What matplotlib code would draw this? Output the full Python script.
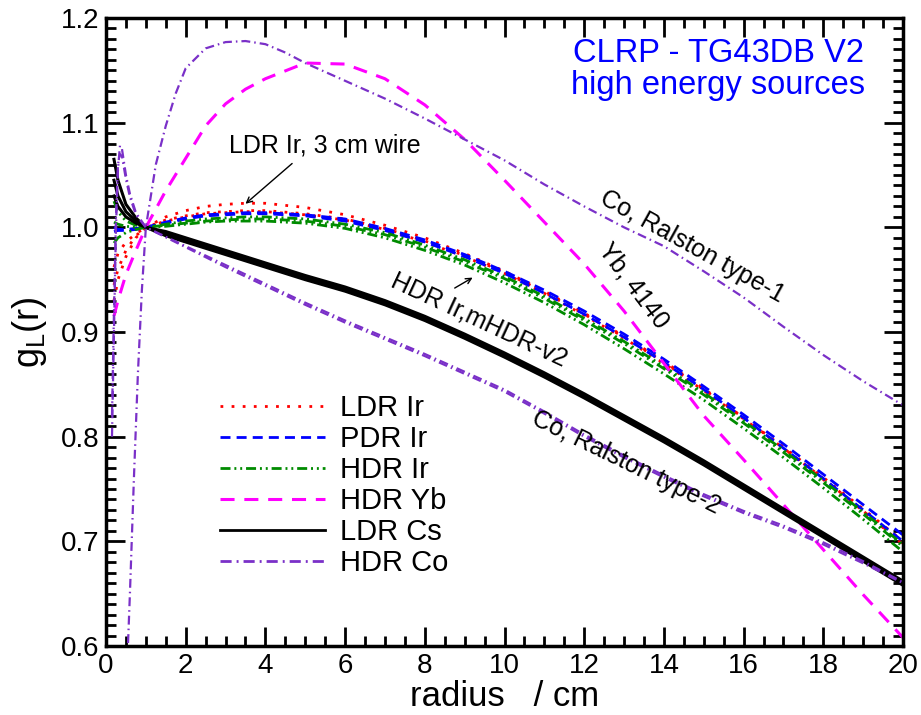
import matplotlib
matplotlib.use("Agg")
import matplotlib.pyplot as plt
from matplotlib.ticker import MultipleLocator, FormatStrFormatter

plt.rcParams['font.family'] = ['Liberation Sans', 'DejaVu Sans']

# radius grid (cm)
r = [0.2, 0.3, 0.5, 0.75, 1, 1.5, 2, 2.5, 3, 3.5, 4, 5, 6, 7, 8, 9, 10,
     11, 12, 13, 14, 15, 16, 17, 18, 19, 20]

# LDR Ir (red dotted)
ldr_ir_wire = [0.945, 0.96, 0.978, 0.992, 1.0, 1.010, 1.016, 1.020, 1.022, 1.023, 1.023,
               1.019, 1.012, 1.002, 0.990, 0.975, 0.958, 0.939, 0.918, 0.896, 0.872,
               0.846, 0.818, 0.789, 0.759, 0.729, 0.698]
ldr_ir_a = [0.930, 0.950, 0.972, 0.990, 1.0, 1.007, 1.011, 1.014, 1.015, 1.016, 1.016,
            1.013, 1.008, 0.999, 0.987, 0.973, 0.957, 0.938, 0.917, 0.895, 0.871,
            0.845, 0.818, 0.790, 0.761, 0.731, 0.700]
ldr_ir_b = [0.962, 0.975, 0.986, 0.994, 1.0, 1.006, 1.010, 1.013, 1.014, 1.015, 1.015,
            1.012, 1.007, 0.998, 0.986, 0.972, 0.956, 0.937, 0.916, 0.894, 0.870,
            0.844, 0.817, 0.789, 0.760, 0.729, 0.697]

# PDR Ir (blue dashed)
pdr_ir_a = [1.000, 0.998, 0.998, 0.999, 1.0, 1.005, 1.009, 1.012, 1.013, 1.014, 1.014,
            1.012, 1.008, 0.999, 0.988, 0.974, 0.958, 0.940, 0.920, 0.898, 0.874,
            0.848, 0.821, 0.793, 0.764, 0.735, 0.706]
pdr_ir_b = [0.996, 0.997, 0.997, 0.998, 1.0, 1.004, 1.008, 1.011, 1.012, 1.013, 1.013,
            1.011, 1.006, 0.997, 0.986, 0.972, 0.956, 0.937, 0.917, 0.895, 0.871,
            0.845, 0.818, 0.789, 0.760, 0.730, 0.700]

# HDR Ir (green dash-dot-dot)
hdr_ir_a = [1.025, 1.015, 1.006, 1.002, 1.0, 1.002, 1.004, 1.006, 1.007, 1.008, 1.008,
            1.006, 1.001, 0.993, 0.981, 0.967, 0.951, 0.932, 0.911, 0.889, 0.865,
            0.840, 0.813, 0.785, 0.756, 0.726, 0.695]
hdr_ir_b = [0.985, 0.990, 0.995, 0.998, 1.0, 1.003, 1.006, 1.008, 1.009, 1.010, 1.010,
            1.008, 1.003, 0.995, 0.983, 0.969, 0.953, 0.934, 0.913, 0.891, 0.867,
            0.842, 0.815, 0.787, 0.758, 0.728, 0.697]
hdr_ir_c = [1.005, 1.003, 1.001, 1.000, 1.0, 1.001, 1.003, 1.005, 1.006, 1.006, 1.006,
            1.004, 0.999, 0.990, 0.978, 0.964, 0.947, 0.928, 0.907, 0.884, 0.860,
            0.835, 0.808, 0.780, 0.751, 0.721, 0.690]

# HDR Yb (magenta long dash)
hdr_yb = [0.915, 0.930, 0.955, 0.978, 1.0, 1.035, 1.066, 1.097, 1.118, 1.132, 1.142,
          1.157, 1.156, 1.142, 1.117, 1.084, 1.045, 1.005, 0.965, 0.920, 0.870,
          0.820, 0.778, 0.735, 0.692, 0.649, 0.608]

# LDR Cs (black solid)
ldr_cs_a = [1.065, 1.045, 1.022, 1.009, 1.0, 0.994, 0.988, 0.982, 0.976, 0.970, 0.964,
            0.952, 0.941, 0.928, 0.913, 0.896, 0.878, 0.859, 0.839, 0.818, 0.797,
            0.775, 0.752, 0.729, 0.706, 0.683, 0.660]
ldr_cs_b = [1.045, 1.030, 1.015, 1.006, 1.0, 0.996, 0.990, 0.984, 0.978, 0.972, 0.966,
            0.954, 0.943, 0.930, 0.915, 0.898, 0.880, 0.861, 0.841, 0.820, 0.799,
            0.777, 0.754, 0.731, 0.708, 0.685, 0.662]
ldr_cs_c = [1.030, 1.020, 1.010, 1.004, 1.0, 0.992, 0.986, 0.980, 0.974, 0.968, 0.962,
            0.950, 0.939, 0.926, 0.911, 0.894, 0.876, 0.857, 0.837, 0.816, 0.795,
            0.773, 0.750, 0.727, 0.704, 0.681, 0.658]

# HDR Co, Ralston type-1 (purple dash-dot)
r_co1 = [0.5, 0.6, 0.7, 0.8, 0.9, 1, 1.25, 1.5, 1.75, 2, 2.5, 3, 3.5, 4, 4.5, 5, 6, 7,
         8, 9, 10, 11, 12, 13, 14, 15, 16, 17, 18, 19, 20]
co_type1 = [0.55, 0.65, 0.76, 0.86, 0.94, 1.0, 1.06, 1.097, 1.128, 1.152, 1.171, 1.177,
            1.178, 1.175, 1.167, 1.157, 1.140, 1.123, 1.104, 1.084, 1.064, 1.041,
            1.020, 1.000, 0.982, 0.958, 0.933, 0.905, 0.878, 0.853, 0.830]

# HDR Co, Ralston type-2
r_co2 = [0.15, 0.2, 0.25, 0.3, 0.35, 0.4, 0.5, 0.6, 0.75, 1, 2, 3, 4, 5, 6, 7, 8, 9,
         10, 11, 12, 13, 14, 15, 16, 17, 18, 19, 20]
co_type2_a = [0.80, 0.90, 1.00, 1.055, 1.078, 1.075, 1.050, 1.032, 1.014, 1.0, 0.982,
              0.964, 0.946, 0.928, 0.911, 0.895, 0.879, 0.862, 0.845, 0.824, 0.802,
              0.782, 0.763, 0.745, 0.729, 0.715, 0.699, 0.681, 0.661]
co_type2_b = [0.82, 0.92, 1.01, 1.060, 1.070, 1.068, 1.046, 1.029, 1.012, 1.0, 0.981,
              0.962, 0.944, 0.926, 0.909, 0.893, 0.877, 0.860, 0.843, 0.822, 0.800,
              0.780, 0.761, 0.743, 0.727, 0.713, 0.697, 0.679, 0.660]

red, blue, green = '#ff0000', '#0000ff', '#008b00'
magenta, purple = '#ff00ff', '#7a30c8'

fig = plt.figure(figsize=(9.21, 7.15), dpi=100)
ax = fig.add_axes([0.1151, 0.0965, 0.8654, 0.8783])

dot = (0, (1, 3))
dash = (0, (3.6, 2.2))
dashdotdot = (0, (3.6, 1.4, 0.7, 1.4, 0.7, 1.4))
longdash = (0, (4.6, 3.2))
dashdot = (0, (4, 1.8, 0.7, 1.8))

for g in [ldr_ir_wire, ldr_ir_a, ldr_ir_b]:
    ax.plot(r, g, color=red, lw=2, ls=dot)
for g in [pdr_ir_a, pdr_ir_b]:
    ax.plot(r, g, color=blue, lw=2, ls=dash)
for g in [hdr_ir_a, hdr_ir_b, hdr_ir_c]:
    ax.plot(r, g, color=green, lw=2, ls=dashdotdot)
ax.plot(r, hdr_yb, color=magenta, lw=2.2, ls=longdash)
for g in [ldr_cs_a, ldr_cs_b, ldr_cs_c]:
    ax.plot(r, g, color='black', lw=2.2)
ax.plot(r_co1, co_type1, color=purple, lw=1.6, ls=dashdot)
ax.plot(r_co2, co_type2_a, color=purple, lw=1.6, ls=dashdot)
ax.plot(r_co2, co_type2_b, color=purple, lw=1.6, ls=dashdot)

# legend proxies
h = []
h += ax.plot([], [], color=red, lw=2, ls=dot, label='LDR Ir')
h += ax.plot([], [], color=blue, lw=2, ls=dash, label='PDR Ir')
h += ax.plot([], [], color=green, lw=2, ls=dashdotdot, label='HDR Ir')
h += ax.plot([], [], color=magenta, lw=2.2, ls=longdash, label='HDR Yb')
h += ax.plot([], [], color='black', lw=2, label='LDR Cs')
h += ax.plot([], [], color=purple, lw=2, ls=dashdot, label='HDR Co')
ax.legend(handles=h, loc='upper left', bbox_to_anchor=(0.143, 0.401),
          frameon=False, fontsize=21, handlelength=3.6, handletextpad=0.5,
          labelspacing=0.1, borderpad=0, borderaxespad=0)

ax.set_xlim(0, 20)
ax.set_ylim(0.6, 1.2)
ax.xaxis.set_major_locator(MultipleLocator(2))
ax.xaxis.set_minor_locator(MultipleLocator(0.5))
ax.yaxis.set_major_locator(MultipleLocator(0.1))
ax.yaxis.set_minor_locator(MultipleLocator(0.01))
ax.yaxis.set_major_formatter(FormatStrFormatter('%.1f'))
ax.tick_params(which='both', direction='in', top=True, right=True, width=2,
               labelsize=20)
ax.tick_params(which='major', length=14, pad=5)
ax.tick_params(which='minor', length=7)
for s in ax.spines.values():
    s.set_linewidth(2.5)

ax.set_xlabel('radius   / cm', fontsize=25, labelpad=1)
ax.set_ylabel(r'g$_\mathregular{L}$(r)', fontsize=26, labelpad=8)

ax.text(0.768, 0.944, 'CLRP - TG43DB V2', transform=ax.transAxes, color=blue,
        fontsize=23.5, ha='center', va='center')
ax.text(0.768, 0.893, 'high energy sources', transform=ax.transAxes, color=blue,
        fontsize=23.5, ha='center', va='center')

ax.text(5.5, 1.078, 'LDR Ir, 3 cm wire', fontsize=18, ha='center', va='center')
ax.annotate('', xy=(3.5, 1.0225), xytext=(4.67, 1.061),
            arrowprops=dict(arrowstyle='->', color='black', lw=1,
                            shrinkA=0, shrinkB=0))
ax.annotate('', xy=(9.2, 0.952), xytext=(8.75, 0.942),
            arrowprops=dict(arrowstyle='->', color='black', lw=1,
                            shrinkA=0, shrinkB=0))
ax.text(9.35, 0.912, 'HDR Ir,mHDR-v2', fontsize=18, rotation=-25,
        rotation_mode='anchor', ha='center', va='center')
ax.text(14.7, 0.982, 'Co, Ralston type-1', fontsize=18, rotation=-29,
        rotation_mode='anchor', ha='center', va='center')
ax.text(13.25, 0.944, 'Yb, 4140', fontsize=18, rotation=-53,
        rotation_mode='anchor', ha='center', va='center')
ax.text(13.05, 0.775, 'Co, Ralston type-2', fontsize=18, rotation=-26,
        rotation_mode='anchor', ha='center', va='center')

fig.savefig('out.png', dpi=100)
